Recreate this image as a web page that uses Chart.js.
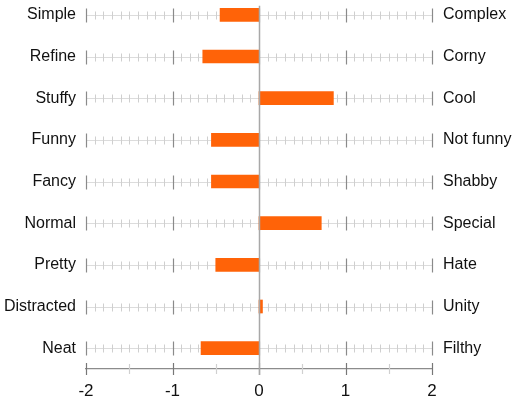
<!DOCTYPE html>
<html>
<head>
<meta charset="utf-8">
<script src="https://cdn.jsdelivr.net/npm/chart.js@4/dist/chart.umd.min.js"></script>
<style>
  html, body { margin: 0; padding: 0; background: #fff; overflow: hidden; }
  /* taller box pulled up so the top row sits near the edge */
  #wrap { width: 517px; height: 428px; margin-top: -20px; }
</style>
</head>
<body>
<div id="wrap"><canvas id="myChart"></canvas></div>
<script>
// left / right ends of each scale, top to bottom
const leftLabels = ['Simple', 'Refine', 'Stuffy', 'Funny', 'Fancy', 'Normal', 'Pretty', 'Distracted', 'Neat'];
const rightLabels = ['Complex', 'Corny', 'Cool', 'Not funny', 'Shabby', 'Special', 'Hate', 'Unity', 'Filthy'];
const scores = [-0.45, -0.65, 0.86, -0.55, -0.55, 0.72, -0.50, 0.04, -0.67];
const xTicks = [-2, -1, 0, 1, 2];

// row guide lines with little ticks, zero line, bottom axis ticks
const guides = {
  id: 'guides',
  beforeDatasetsDraw(chart) {
    const { ctx, scales: { x, y } } = chart;
    ctx.save();
    leftLabels.forEach((lab, i) => {
      const py = Math.round(y.getPixelForValue(i)) + 0.5;
      ctx.strokeStyle = '#dcdcdc';
      ctx.lineWidth = 1;
      ctx.beginPath();
      ctx.moveTo(x.getPixelForValue(-2), py);
      ctx.lineTo(x.getPixelForValue(2), py);
      ctx.stroke();
      for (let k = -20; k <= 20; k++) {
        const px = Math.round(x.getPixelForValue(k / 10)) + 0.5;
        ctx.beginPath();
        if (k % 10 === 0) {
          ctx.strokeStyle = '#8a8a8a';
          ctx.lineWidth = 1.2;
          ctx.moveTo(px, py - 7);
          ctx.lineTo(px, py + 7);
        } else {
          ctx.strokeStyle = '#cfcfcf';
          ctx.lineWidth = 1;
          ctx.moveTo(px, py - 4);
          ctx.lineTo(px, py + 4);
        }
        ctx.stroke();
      }
    });
    // bottom axis ticks
    const by = chart.chartArea.bottom;
    for (let k = -4; k <= 4; k++) {
      const px = Math.round(x.getPixelForValue(k / 2)) + 0.5;
      ctx.beginPath();
      if (k % 2 === 0) {
        ctx.strokeStyle = '#777';
        ctx.moveTo(px, by - 6);
        ctx.lineTo(px, by + 6);
      } else {
        ctx.strokeStyle = '#d0d0d0';
        ctx.moveTo(px, by - 5);
        ctx.lineTo(px, by + 5);
      }
      ctx.stroke();
    }
    ctx.restore();
  },
  afterDatasetsDraw(chart) {
    const { ctx, scales: { x, y } } = chart;
    const px = Math.round(x.getPixelForValue(0)) + 0.5;
    ctx.save();
    ctx.strokeStyle = '#a8a8a8';
    ctx.lineWidth = 1.5;
    ctx.beginPath();
    ctx.moveTo(px, y.getPixelForValue(0) - 9);
    ctx.lineTo(px, chart.chartArea.bottom + 6);
    ctx.stroke();
    ctx.restore();
  }
};

const noPad = (s) => { s.paddingTop = 0; s.paddingBottom = 0; };

const chart = new Chart(document.getElementById('myChart'), {
  type: 'bar',
  data: {
    labels: leftLabels,
    datasets: [{
      data: scores,
      backgroundColor: '#ff6308',
      barThickness: 13,
    }],
  },
  options: {
    indexAxis: 'y',
    responsive: true,
    maintainAspectRatio: false,
    animation: false,
    layout: { padding: { top: 14, left: 0, right: 0, bottom: 0 } },
    plugins: {
      legend: { display: false },
      tooltip: { enabled: false },
    },
    scales: {
      x: {
        min: -2,
        max: 2,
        afterBuildTicks: (s) => { s.ticks = xTicks.map(v => ({ value: v })); },
        grid: { display: false },
        border: { display: true, color: '#8c8c8c', width: 1.2 },
        ticks: {
          color: '#111',
          padding: 4,
          font: { family: 'Liberation Sans', size: 17 },
        },
        afterFit: (s) => { s.height = 39; },
      },
      y: {
        offset: true,
        grid: { display: false },
        border: { display: false },
        ticks: {
          color: '#111',
          padding: 2,
          font: (c) => c.index === 7
            ? { family: "'Liberation Sans Narrow', 'Liberation Sans'", size: 16 }
            : { family: 'Liberation Sans', size: 16 },
        },
        afterFit: (s) => { s.width = 86; noPad(s); },
      },
      y2: {
        type: 'category',
        position: 'right',
        labels: rightLabels,
        offset: true,
        grid: { display: false },
        border: { display: false },
        ticks: {
          color: '#111',
          padding: 3,
          font: { family: 'Liberation Sans', size: 16 },
        },
        afterFit: (s) => { s.width = 85; noPad(s); },
      },
    },
  },
  plugins: [guides],
});
</script>
</body>
</html>
